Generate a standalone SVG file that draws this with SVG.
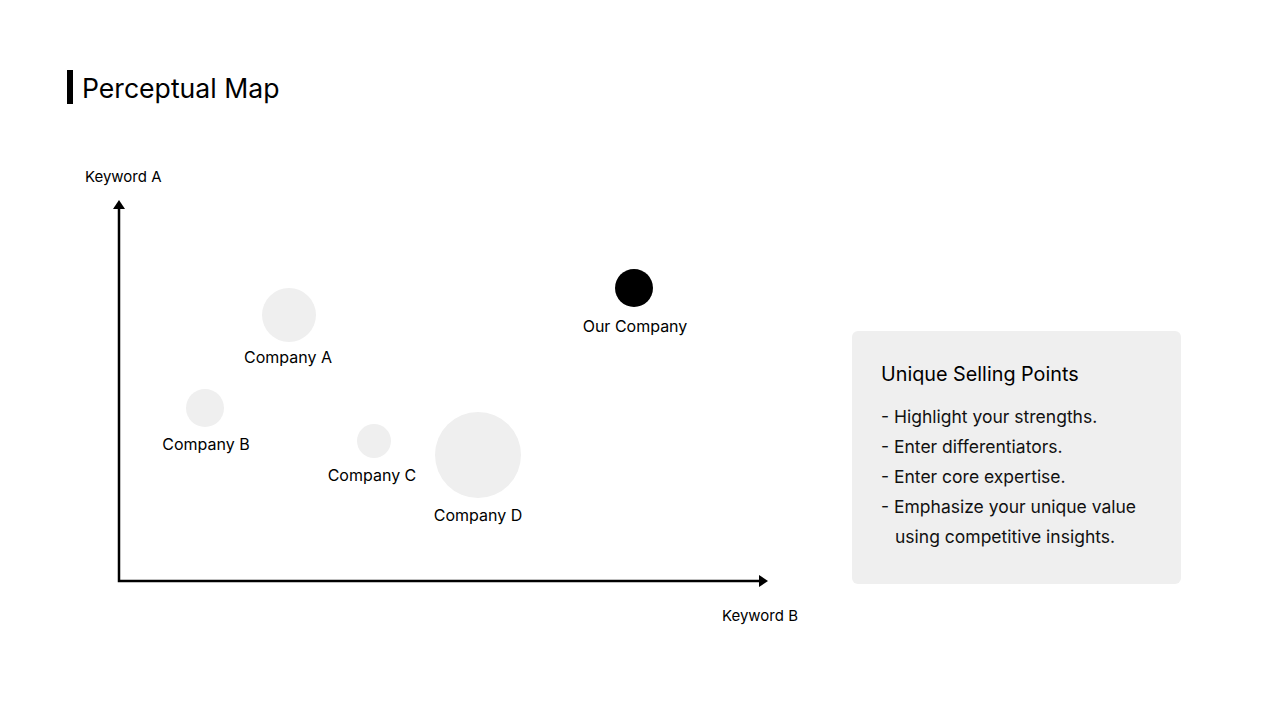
<svg xmlns="http://www.w3.org/2000/svg" width="1280" height="720" viewBox="0 0 1280 720">
<style>
text{font-family:Inter,"Noto Sans","Liberation Sans",sans-serif;fill:#000}
.lbl{font-size:16px;text-anchor:middle}
.ax{font-size:15px}
.bub{fill:#efefef}
.li{font-size:17.5px;fill:#111}
</style>
<rect width="1280" height="720" fill="#fff"/>
<g id="title">
<rect x="67" y="70" width="6" height="34" fill="#000"/>
<text x="82" y="98" font-size="26.6">Perceptual Map</text>
</g>
<g id="connectors">
<polyline points="119,206 119,581 762,581" fill="none" stroke="#000" stroke-width="2.5"/>
<path d="M119,200 L125,209 L113,209 Z" fill="#000"/>
<path d="M768,581 L759,575 L759,587 Z" fill="#000"/>
</g>
<g id="axis-a"><text class="ax" x="85" y="182">Keyword A</text></g>
<g id="axis-b"><text class="ax" x="722" y="621">Keyword B</text></g>
<g id="company-a"><circle class="bub" cx="289" cy="315" r="27"/><text class="lbl" x="288" y="363">Company A</text></g>
<g id="company-b"><circle class="bub" cx="205" cy="408" r="19"/><text class="lbl" x="206" y="450">Company B</text></g>
<g id="company-c"><circle class="bub" cx="374" cy="441" r="17"/><text class="lbl" x="372" y="481">Company C</text></g>
<g id="company-d"><circle class="bub" cx="478" cy="455" r="43"/><text class="lbl" x="478" y="521">Company D</text></g>
<g id="our-company"><circle cx="634" cy="288" r="19" fill="#000"/><text class="lbl" x="635" y="332">Our Company</text></g>
<g id="usp">
<rect x="852" y="331" width="329" height="253" rx="6" fill="#efefef"/>
<text x="881" y="381" font-size="19.8" fill="#111">Unique Selling Points</text>
<text class="li" x="881" y="423">- Highlight your strengths.</text>
<text class="li" x="881" y="453">- Enter differentiators.</text>
<text class="li" x="881" y="483">- Enter core expertise.</text>
<text class="li" x="881" y="513">- Emphasize your unique value</text>
<text class="li" x="895" y="543">using competitive insights.</text>
</g>
</svg>
